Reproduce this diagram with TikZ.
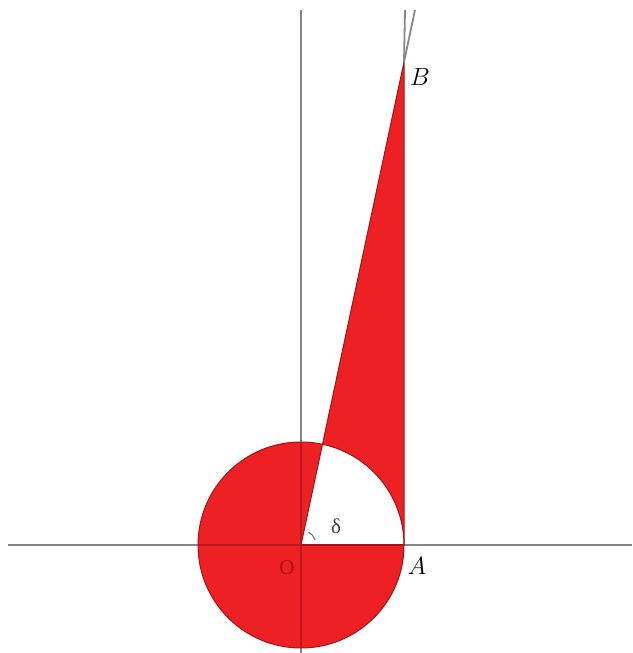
\documentclass[tikz,border=0pt]{standalone}
\usepackage{fontspec}
\newfontfamily\grk{Liberation Serif}
\usetikzlibrary{calc}
\definecolor{figred}{RGB}{237,32,36}
\definecolor{edgered}{RGB}{165,20,20}
\definecolor{axisgray}{RGB}{135,135,135}
\definecolor{axisred}{RGB}{185,25,25}
\tikzset{
  axisline/.style={draw=axisgray, line width=1.8pt},
  edgeline/.style={draw=edgered, line width=1pt},
  lbl/.style={inner sep=0pt, font=\fontsize{28}{32}\selectfont}
}
\begin{document}
\begin{tikzpicture}[x=1pt,y=1pt]
\useasboundingbox (0,0) rectangle (632,653);
\coordinate (O) at (301,108);
\coordinate (A) at (404,108);
\coordinate (B) at (404,591);
\coordinate (Bt) at (415,643);
\coordinate (At) at (405,643);
\coordinate (XL) at (8,108);
\coordinate (XR) at (632,108);
\coordinate (YT) at (301,643);
\coordinate (YB) at (301,0);
% red region: circle xor triangle
\fill[figred, even odd rule] (O) circle (103) (O) -- (A) -- (B) -- cycle;
% axes
\draw[axisline] (XL) -- (XR);
\draw[axisline] (YB) -- (YT);
\begin{scope}
  \clip (O) circle (103);
  \draw[axisline, draw=axisred] (XL) -- (XR);
  \draw[axisline, draw=axisred] (YB) -- (YT);
\end{scope}
% outlines
\draw[edgeline] (O) circle (103);
\draw[edgeline] (O) -- (B) -- (A);
\draw[axisline] (B) -- (Bt);
\draw[axisline] (B) -- (At);
\draw[edgeline, line width=1.6pt] (O) -- (A);
% angle mark
\draw[black!60, line width=1pt] ($(O)+(20:15)$) arc (20:60:15);
% labels
\node[lbl] (lB) at (420,576) {$B$};
\node[lbl] (lA) at (417,87) {$A$};
\node[lbl, font=\grk\fontsize{21}{24}\selectfont, text=black!75] (ld) at (336,127) {δ};
\node[lbl, font=\grk\fontsize{21}{24}\selectfont, text=edgered] (lO) at (287,85) {O};
\end{tikzpicture}
\end{document}
